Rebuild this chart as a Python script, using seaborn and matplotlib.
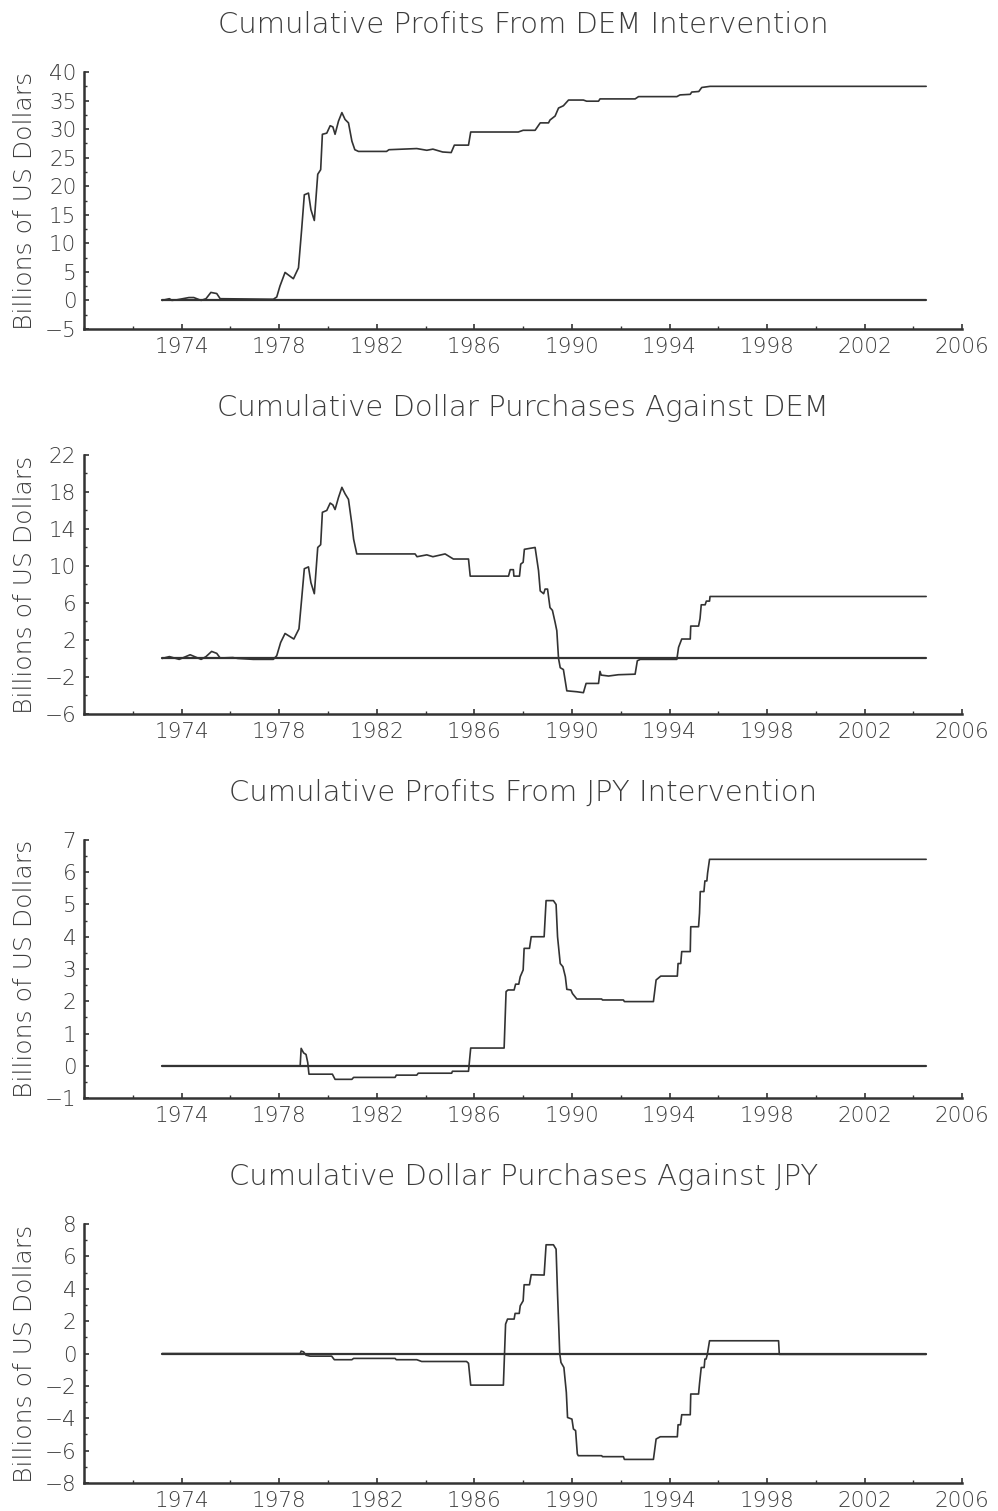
import pandas as pd
import matplotlib
matplotlib.use("Agg")
import matplotlib.pyplot as plt
from matplotlib.ticker import MultipleLocator
import seaborn as sns

# ---- data (year, billions of US$) ----
span_years = [1973.2, 2004.52]

dem_profit_years = [1973.2, 1973.5, 1973.6, 1973.8, 1974.3, 1974.5, 1974.8, 1975.0, 1975.2, 1975.44,
                    1975.58, 1977.76, 1977.9, 1978.03, 1978.24, 1978.58, 1978.79, 1978.92, 1979.03, 1979.2,
                    1979.3, 1979.44, 1979.58, 1979.70, 1979.77, 1979.95, 1980.09, 1980.2, 1980.29, 1980.43,
                    1980.57, 1980.7, 1980.84, 1980.98, 1981.1, 1981.25, 1982.4, 1982.5, 1983.64, 1984.05,
                    1984.3, 1984.7, 1985.05, 1985.18, 1985.76, 1985.85, 1987.8, 1988.0, 1988.49, 1988.7,
                    1989.04, 1989.1, 1989.31, 1989.45, 1989.65, 1989.86, 1990.47, 1990.6, 1991.09, 1991.15,
                    1992.59, 1992.73, 1994.3, 1994.43, 1994.85, 1994.91, 1995.2, 1995.32, 1995.66, 2004.52]
dem_profit_vals = [0, 0.3, 0, 0.1, 0.5, 0.5, 0.0, 0.3, 1.4, 1.2,
                   0.3, 0.2, 0.6, 2.5, 4.9, 3.8, 5.7, 12.4, 18.5, 18.8,
                   15.9, 14.0, 22.1, 22.9, 29.1, 29.3, 30.6, 30.4, 29.1, 31.4,
                   32.9, 31.7, 31.1, 27.9, 26.4, 26.1, 26.1, 26.4, 26.6, 26.3,
                   26.5, 26.0, 25.9, 27.2, 27.2, 29.5, 29.5, 29.8, 29.8, 31.1,
                   31.1, 31.6, 32.3, 33.7, 34.1, 35.1, 35.1, 34.9, 34.9, 35.3,
                   35.3, 35.7, 35.7, 36.0, 36.1, 36.5, 36.6, 37.3, 37.5, 37.5]

dem_buy_years = [1973.2, 1973.5, 1973.9, 1974.35, 1974.8, 1975.0, 1975.23, 1975.44, 1975.58, 1976.1,
                 1976.3, 1976.94, 1977.76, 1977.9, 1978.06, 1978.24, 1978.6, 1978.81, 1978.92, 1979.03,
                 1979.2, 1979.3, 1979.44, 1979.58, 1979.70, 1979.77, 1979.95, 1980.09, 1980.2, 1980.29,
                 1980.43, 1980.57, 1980.7, 1980.84, 1980.98, 1981.05, 1981.18, 1983.57, 1983.65, 1984.05,
                 1984.3, 1984.8, 1985.14, 1985.76, 1985.83, 1987.4, 1987.47, 1987.6, 1987.62, 1987.85,
                 1987.9, 1988.0, 1988.05, 1988.49, 1988.63, 1988.7, 1988.84, 1988.9, 1989.0, 1989.1,
                 1989.2, 1989.31, 1989.38, 1989.45, 1989.52, 1989.65, 1989.79, 1990.2, 1990.47, 1990.58,
                 1991.09, 1991.15, 1991.2, 1991.5, 1991.9, 1992.59, 1992.68, 1992.8, 1994.3, 1994.37,
                 1994.5, 1994.85, 1994.87, 1995.19, 1995.25, 1995.3, 1995.46, 1995.51, 1995.64, 1995.66,
                 2004.52]
dem_buy_vals = [0, 0.2, -0.1, 0.4, -0.1, 0.2, 0.76, 0.55, 0.05, 0.1,
                0, -0.1, -0.1, 0.3, 1.73, 2.7, 2.1, 3.2, 6.4, 9.7,
                9.9, 8.2, 7.0, 12.0, 12.3, 15.8, 16.0, 16.8, 16.6, 16.1,
                17.4, 18.5, 17.8, 17.2, 14.5, 12.9, 11.3, 11.3, 11.0, 11.2,
                11.0, 11.3, 10.75, 10.75, 8.9, 8.9, 9.6, 9.6, 8.9, 8.9,
                10.2, 10.4, 11.8, 12.0, 9.5, 7.3, 7.0, 7.5, 7.5, 5.5,
                5.2, 3.9, 3.0, 0, -1.0, -1.2, -3.5, -3.6, -3.7, -2.7,
                -2.7, -1.4, -1.8, -1.9, -1.76, -1.7, -0.25, -0.1, -0.1, 1.2,
                2.1, 2.1, 3.5, 3.5, 4.3, 5.8, 5.8, 6.2, 6.2, 6.7,
                6.7]

jpy_profit_years = [1973.2, 1978.86, 1978.9, 1979.0, 1979.1, 1979.17, 1979.22, 1980.18, 1980.29, 1980.98,
                    1981.05, 1982.75, 1982.8, 1983.64, 1983.7, 1985.07, 1985.1, 1985.76, 1985.85, 1987.22,
                    1987.3, 1987.38, 1987.63, 1987.69, 1987.82, 1987.88, 1988.0, 1988.04, 1988.26, 1988.33,
                    1988.86, 1988.94, 1989.24, 1989.35, 1989.41, 1989.52, 1989.63, 1989.73, 1989.79, 1989.96,
                    1990.02, 1990.2, 1991.22, 1991.25, 1992.11, 1992.15, 1993.34, 1993.45, 1993.64, 1994.32,
                    1994.35, 1994.46, 1994.5, 1994.85, 1994.87, 1995.19, 1995.23, 1995.26, 1995.41, 1995.45,
                    1995.53, 1995.56, 1995.64, 2004.52]
jpy_profit_vals = [0, 0, 0.54, 0.4, 0.35, 0.1, -0.26, -0.26, -0.42, -0.42,
                   -0.36, -0.36, -0.29, -0.29, -0.23, -0.23, -0.17, -0.17, 0.55, 0.55,
                   2.3, 2.35, 2.35, 2.53, 2.53, 2.76, 2.97, 3.64, 3.64, 4.0,
                   4.0, 5.12, 5.12, 5.0, 4.0, 3.17, 3.07, 2.76, 2.37, 2.35,
                   2.24, 2.07, 2.07, 2.04, 2.04, 1.99, 1.99, 2.66, 2.78, 2.78,
                   3.17, 3.17, 3.54, 3.54, 4.31, 4.31, 4.73, 5.4, 5.4, 5.73,
                   5.73, 5.97, 6.4, 6.4]

jpy_buy_years = [1973.2, 1978.86, 1978.9, 1979.0, 1979.1, 1979.26, 1980.15, 1980.26, 1980.98, 1981.05,
                 1982.75, 1982.8, 1983.64, 1983.84, 1985.68, 1985.76, 1985.85, 1987.19, 1987.28, 1987.36,
                 1987.63, 1987.67, 1987.84, 1987.88, 1988.0, 1988.04, 1988.26, 1988.33, 1988.86, 1988.94,
                 1989.24, 1989.35, 1989.41, 1989.5, 1989.55, 1989.67, 1989.77, 1989.82, 1990.0, 1990.06,
                 1990.15, 1990.22, 1990.26, 1991.22, 1991.25, 1992.11, 1992.15, 1993.34, 1993.45, 1993.62,
                 1994.32, 1994.35, 1994.45, 1994.5, 1994.85, 1994.87, 1995.19, 1995.23, 1995.3, 1995.42,
                 1995.45, 1995.5, 1995.55, 1995.64, 1998.47, 1998.5, 2004.52]
jpy_buy_vals = [0, 0, 0.15, 0.1, -0.1, -0.16, -0.16, -0.38, -0.38, -0.3,
                -0.3, -0.38, -0.38, -0.49, -0.49, -0.6, -1.95, -1.95, 1.82, 2.13,
                2.13, 2.48, 2.48, 2.95, 3.26, 4.25, 4.25, 4.87, 4.85, 6.72,
                6.72, 6.45, 3.67, 0, -0.55, -0.86, -2.4, -3.95, -4.05, -4.66,
                -4.76, -6.2, -6.31, -6.31, -6.37, -6.37, -6.54, -6.54, -5.28, -5.14,
                -5.14, -4.4, -4.4, -3.78, -3.78, -2.5, -2.5, -1.85, -0.86, -0.86,
                -0.34, -0.34, -0.05, 0.79, 0.79, -0.05, -0.05]

titles = ["Cumulative Profits From DEM Intervention",
          "Cumulative Dollar Purchases Against DEM",
          "Cumulative Profits From JPY Intervention",
          "Cumulative Dollar Purchases Against JPY"]
ylimits = [(-5, 40), (-6, 22), (-1, 7), (-8, 8)]
ymajor = [5, 4, 1, 2]
year_ticks = list(range(1974, 2007, 4))

series = [(dem_profit_years, dem_profit_vals), (dem_buy_years, dem_buy_vals),
          (jpy_profit_years, jpy_profit_vals), (jpy_buy_years, jpy_buy_vals)]

# ---- style ----
sns.set_style("ticks")
plt.rcParams['font.family'] = ['DejaVu Sans']
plt.rcParams['font.weight'] = 'light'
plt.rcParams['axes.titleweight'] = 'light'
plt.rcParams['axes.labelweight'] = 'light'
ink = '#333333'
txt = '#3c3c3c'

fig = plt.figure(figsize=(9.98, 15.11), dpi=100)
# axes boxes in figure fraction (left, bottom, width, height)
boxes = [(0.0842, 0.7823, 0.880, 0.1700),
         (0.0842, 0.5275, 0.880, 0.1714),
         (0.0842, 0.2733, 0.880, 0.1708),
         (0.0842, 0.0185, 0.880, 0.1714)]

for i, (yrs, vals) in enumerate(series):
    ax = fig.add_axes(boxes[i])
    df = pd.DataFrame({'year': yrs, 'value': vals})
    zero = pd.DataFrame({'year': span_years, 'value': [0, 0]})
    sns.lineplot(data=zero, x='year', y='value', ax=ax, color=ink, linewidth=1.6,
                 estimator=None, sort=False)
    sns.lineplot(data=df, x='year', y='value', ax=ax, color=ink, linewidth=1.2,
                 estimator=None, sort=False)

    ax.set_xlim(1970, 2006)
    ax.set_ylim(*ylimits[i])
    ax.set_xticks(year_ticks)
    ax.xaxis.set_minor_locator(MultipleLocator(2))
    ax.yaxis.set_major_locator(MultipleLocator(ymajor[i]))
    ax.yaxis.set_minor_locator(MultipleLocator(ymajor[i] / 2))
    if i == 1:
        ax.set_yticks(list(range(-6, 23, 4)))

    sns.despine(ax=ax)
    for s in ['left', 'bottom']:
        ax.spines[s].set_linewidth(1.8)
        ax.spines[s].set_color(ink)
    ax.tick_params(which='major', direction='in', length=3.6, width=1.2, color=ink,
                   labelsize=15.5, labelcolor=txt, pad=5.5)
    ax.tick_params(which='minor', direction='in', length=2.2, width=1.0, color=ink)

    ax.set_xlabel('')
    ax.set_ylabel('Billions of US Dollars', fontsize=18, color=txt)
    ax.yaxis.set_label_coords(-0.053, 0.5)
    ax.set_title(titles[i], fontsize=21, color=txt, pad=28)

fig.savefig('out.png', dpi=100)
